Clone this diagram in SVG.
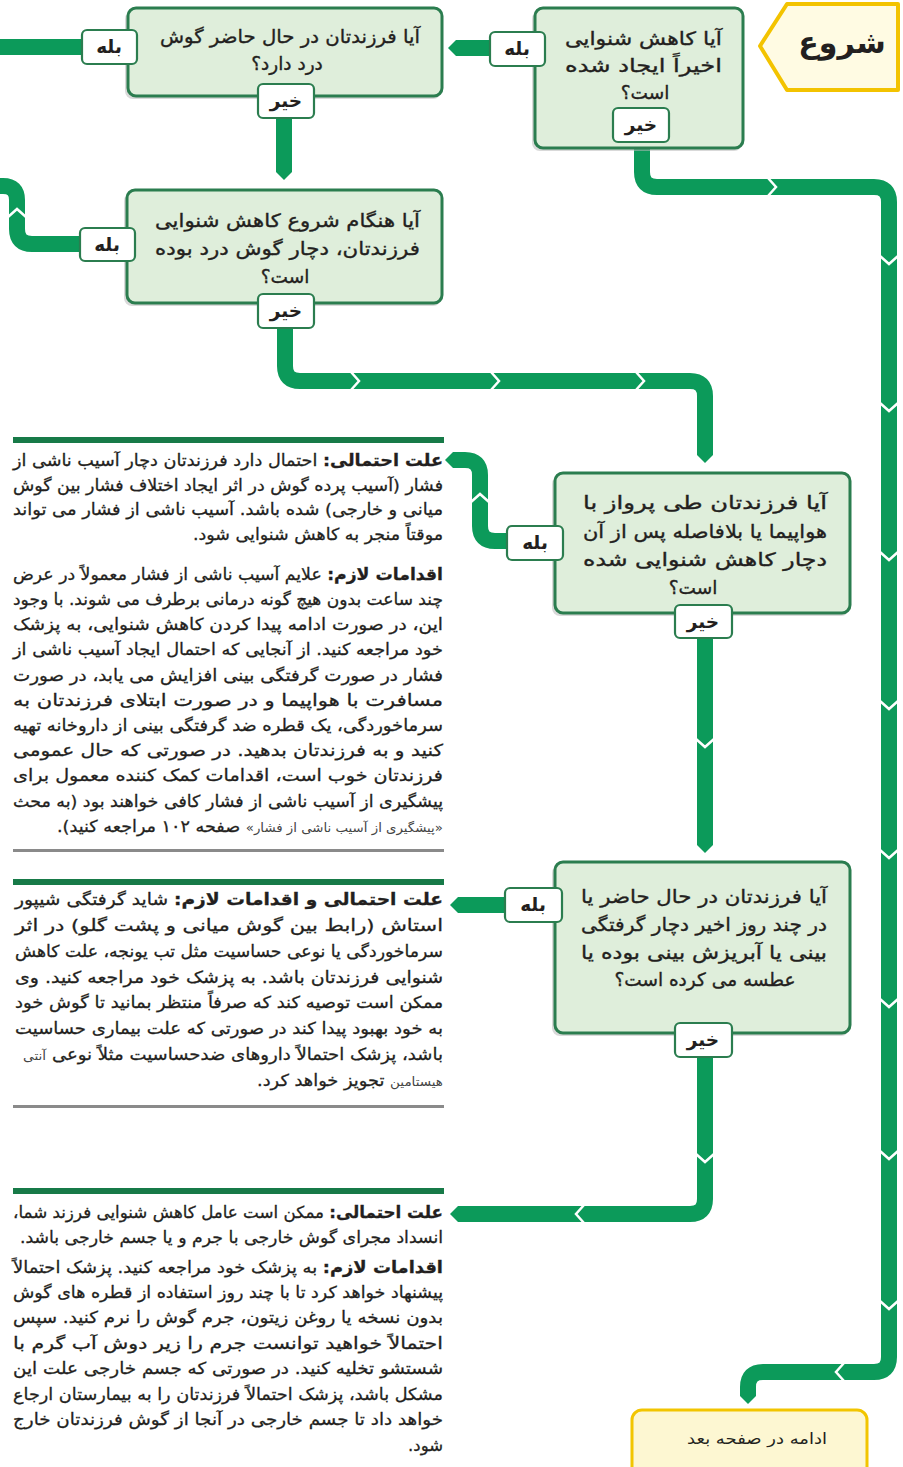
<svg xmlns="http://www.w3.org/2000/svg" width="903" height="1467" viewBox="0 0 903 1467">
<defs>
<style>
.t{font-family:"DejaVu Sans",sans-serif;fill:#231f20;}
.r{direction:rtl;}
.q{font-size:18.5px;stroke:#231f20;stroke-width:0.35;}
.lt{font-size:18.5px;font-weight:bold;}
.b{font-size:16.5px;stroke:#231f20;stroke-width:0.3;}
.k{font-weight:bold;}
.s{font-size:12.5px;fill:#444;stroke:none;}
.lbl{fill:#fff;stroke:#2b7d4f;stroke-width:2.2;}
.box{fill:#dfeedb;stroke:#2b7d4f;stroke-width:3;}
.sh{fill:#b9b9b9;opacity:.55;}
.c{fill:none;stroke:#0c9a5a;stroke-width:16;}
.ch{fill:none;stroke:#fff;stroke-width:2.5;}
.rule{fill:#177a48;}
.grule{fill:#8a8a8a;}
</style>
<marker id="tip" viewBox="0 0 10 10" refX="0" refY="5" markerWidth="1" markerHeight="1" orient="auto" markerUnits="strokeWidth"><path d="M0,0 L5,5 L0,10Z" fill="#0c9a5a"/></marker>
</defs>
<rect width="903" height="1467" fill="#fff"/>

<g id="connectors">
<path class="c" d="M490,48 H456" marker-end="url(#tip)"/>
<path class="c" d="M82,47 H0"/>
<path class="c" d="M284,118 V172" marker-end="url(#tip)"/>
<path class="c" d="M80,244 H32 Q17,244 17,229 V200 Q17,186 3,186 H0"/>
<path class="c" d="M285,328 V366 Q285,381 300,381 H690 Q705,381 705,396 V455" marker-end="url(#tip)"/>
<path class="c" d="M642,142 V172 Q642,187 657,187 H874 Q889,187 889,202 V1357 Q889,1372 874,1372 H763 Q748,1372 748,1387 V1396" marker-end="url(#tip)"/>
<path class="c" d="M507,541 H495 Q480,541 480,526 V475 Q480,460 465,460 H453" marker-end="url(#tip)"/>
<path class="c" d="M705,638 V845" marker-end="url(#tip)"/>
<path class="c" d="M505,905 H458" marker-end="url(#tip)"/>
<path class="c" d="M705,1057 V1199 Q705,1214 690,1214 H458" marker-end="url(#tip)"/>
<g id="chevrons">
<polyline class="ch" points="8,217 17,209 26,217"/>
<polyline class="ch" points="351,372 359,381 351,390"/>
<polyline class="ch" points="491,372 499,381 491,390"/>
<polyline class="ch" points="636,372 644,381 636,390"/>
<polyline class="ch" points="768,178 776,187 768,196"/>
<polyline class="ch" points="880,256 889,264 898,256"/>
<polyline class="ch" points="880,403 889,411 898,403"/>
<polyline class="ch" points="880,552 889,560 898,552"/>
<polyline class="ch" points="880,701 889,709 898,701"/>
<polyline class="ch" points="880,850 889,858 898,850"/>
<polyline class="ch" points="880,999 889,1007 898,999"/>
<polyline class="ch" points="880,1151 889,1159 898,1151"/>
<polyline class="ch" points="880,1301 889,1309 898,1301"/>
<polyline class="ch" points="844,1363 836,1372 844,1381"/>
<polyline class="ch" points="471,502 480,494 489,502"/>
<polyline class="ch" points="696,739 705,747 714,739"/>
<polyline class="ch" points="696,1154 705,1162 714,1154"/>
<polyline class="ch" points="584,1205 576,1214 584,1223"/>
</g>
</g>

<g id="start">
<polygon points="760,46 787,4 898,4 898,90 787,90" fill="#fffbe3" stroke="#f3c300" stroke-width="4" stroke-linejoin="round"/>
<text class="t r k" x="842" y="53" font-size="30" text-anchor="middle">شروع</text>
</g>

<g id="q1">
<rect class="sh" x="532" y="11" width="210" height="140" rx="8"/>
<rect class="box" x="535" y="8" width="208" height="140" rx="8"/>
<text class="t r q" x="722" y="45" textLength="157" lengthAdjust="spacingAndGlyphs">آیا کاهش شنوایی</text>
<text class="t r q" x="722" y="72" textLength="157" lengthAdjust="spacingAndGlyphs">اخیراً ایجاد شده</text>
<text class="t r q" x="645" y="99" text-anchor="middle">است؟</text>
<rect class="lbl" x="490" y="32" width="55" height="34" rx="5"/>
<text class="t r lt" x="517" y="55" text-anchor="middle">بله</text>
<rect class="lbl" x="613" y="108" width="56" height="34" rx="5"/>
<text class="t r lt" x="641" y="131" text-anchor="middle">خیر</text>
</g>

<g id="q2">
<rect class="sh" x="125" y="11" width="316" height="88" rx="8"/>
<rect class="box" x="128" y="8" width="314" height="88" rx="8"/>
<text class="t r q" x="420" y="43" textLength="260" lengthAdjust="spacingAndGlyphs">آیا فرزندتان در حال حاضر گوش</text>
<text class="t r q" x="287" y="70" text-anchor="middle">درد دارد؟</text>
<rect class="lbl" x="82" y="30" width="55" height="34" rx="5"/>
<text class="t r lt" x="109" y="53" text-anchor="middle">بله</text>
<rect class="lbl" x="258" y="84" width="56" height="34" rx="5"/>
<text class="t r lt" x="286" y="107" text-anchor="middle">خیر</text>
</g>

<g id="q3">
<rect class="sh" x="124" y="193" width="317" height="113" rx="8"/>
<rect class="box" x="127" y="190" width="315" height="113" rx="8"/>
<text class="t r q" x="420" y="227" textLength="265" lengthAdjust="spacingAndGlyphs">آیا هنگام شروع کاهش شنوایی</text>
<text class="t r q" x="420" y="255" textLength="265" lengthAdjust="spacingAndGlyphs">فرزندتان، دچار گوش درد بوده</text>
<text class="t r q" x="285" y="283" text-anchor="middle">است؟</text>
<rect class="lbl" x="80" y="228" width="55" height="33" rx="5"/>
<text class="t r lt" x="107" y="251" text-anchor="middle">بله</text>
<rect class="lbl" x="258" y="294" width="56" height="34" rx="5"/>
<text class="t r lt" x="286" y="317" text-anchor="middle">خیر</text>
</g>

<g id="q4">
<rect class="sh" x="552" y="476" width="297" height="140" rx="8"/>
<rect class="box" x="555" y="473" width="295" height="140" rx="8"/>
<text class="t r q" x="827" y="509" textLength="244" lengthAdjust="spacingAndGlyphs">آیا فرزندتان طی پرواز با</text>
<text class="t r q" x="827" y="538" textLength="244" lengthAdjust="spacingAndGlyphs">هواپیما یا بلافاصله پس از آن</text>
<text class="t r q" x="827" y="566" textLength="244" lengthAdjust="spacingAndGlyphs">دچار کاهش شنوایی شده</text>
<text class="t r q" x="693" y="594" text-anchor="middle">است؟</text>
<rect class="lbl" x="507" y="526" width="56" height="34" rx="5"/>
<text class="t r lt" x="535" y="549" text-anchor="middle">بله</text>
<rect class="lbl" x="675" y="605" width="57" height="33" rx="5"/>
<text class="t r lt" x="703" y="628" text-anchor="middle">خیر</text>
</g>

<g id="q5">
<rect class="sh" x="552" y="865" width="297" height="171" rx="8"/>
<rect class="box" x="555" y="862" width="295" height="171" rx="8"/>
<text class="t r q" x="827" y="903" textLength="246" lengthAdjust="spacingAndGlyphs">آیا فرزندتان در حال حاضر یا</text>
<text class="t r q" x="827" y="931" textLength="246" lengthAdjust="spacingAndGlyphs">در چند روز اخیر دچار گرفتگی</text>
<text class="t r q" x="827" y="959" textLength="246" lengthAdjust="spacingAndGlyphs">بینی یا آبریزش بینی بوده یا</text>
<text class="t r q" x="705" y="986" text-anchor="middle">عطسه می کرده است؟</text>
<rect class="lbl" x="505" y="888" width="57" height="34" rx="5"/>
<text class="t r lt" x="533" y="911" text-anchor="middle">بله</text>
<rect class="lbl" x="675" y="1023" width="57" height="34" rx="5"/>
<text class="t r lt" x="703" y="1046" text-anchor="middle">خیر</text>
</g>

<g id="continue">
<rect x="632" y="1410" width="235" height="70" rx="10" fill="#fdf7d2" stroke="#f2c500" stroke-width="3"/>
<text class="t r" x="827" y="1444" font-size="15.5" textLength="140" lengthAdjust="spacingAndGlyphs">ادامه در صفحه بعد</text>
</g>

<g id="text1">
<rect class="rule" x="13" y="437" width="431" height="6"/>
<text class="t r b" x="443" y="466" textLength="430" lengthAdjust="spacingAndGlyphs"><tspan class="k">علت احتمالی:</tspan> احتمال دارد فرزندتان دچار آسیب ناشی از</text>
<text class="t r b" x="443" y="491" textLength="430" lengthAdjust="spacingAndGlyphs">فشار (آسیب پرده گوش در اثر ایجاد اختلاف فشار بین گوش</text>
<text class="t r b" x="443" y="515" textLength="430" lengthAdjust="spacingAndGlyphs">میانی و خارجی) شده باشد. آسیب ناشی از فشار می تواند</text>
<text class="t r b" x="443" y="540" textLength="250" lengthAdjust="spacingAndGlyphs">موقتاً منجر به کاهش شنوایی شود.</text>
<text class="t r b" x="443" y="580" textLength="430" lengthAdjust="spacingAndGlyphs"><tspan class="k">اقدامات لازم:</tspan> علایم آسیب ناشی از فشار معمولاً در عرض</text>
<text class="t r b" x="443" y="605" textLength="430" lengthAdjust="spacingAndGlyphs">چند ساعت بدون هیچ گونه درمانی برطرف می شوند. با وجود</text>
<text class="t r b" x="443" y="630" textLength="430" lengthAdjust="spacingAndGlyphs">این، در صورت ادامه پیدا کردن کاهش شنوایی، به پزشک</text>
<text class="t r b" x="443" y="655" textLength="430" lengthAdjust="spacingAndGlyphs">خود مراجعه کنید. از آنجایی که احتمال ایجاد آسیب ناشی از</text>
<text class="t r b" x="443" y="681" textLength="430" lengthAdjust="spacingAndGlyphs">فشار در صورت گرفتگی بینی افزایش می یابد، در صورت</text>
<text class="t r b" x="443" y="706" textLength="430" lengthAdjust="spacingAndGlyphs">مسافرت با هواپیما و در صورت ابتلای فرزندتان به</text>
<text class="t r b" x="443" y="731" textLength="430" lengthAdjust="spacingAndGlyphs">سرماخوردگی، یک قطره ضد گرفتگی بینی از داروخانه تهیه</text>
<text class="t r b" x="443" y="756" textLength="430" lengthAdjust="spacingAndGlyphs">کنید و به فرزندتان بدهید. در صورتی که حال عمومی</text>
<text class="t r b" x="443" y="781" textLength="430" lengthAdjust="spacingAndGlyphs">فرزندتان خوب است، اقدامات کمک کننده معمول برای</text>
<text class="t r b" x="443" y="807" textLength="430" lengthAdjust="spacingAndGlyphs">پیشگیری از آسیب ناشی از فشار کافی خواهند بود (به محث</text>
<text class="t r b" x="443" y="832" textLength="386" lengthAdjust="spacingAndGlyphs"><tspan class="s">«پیشگیری از آسیب ناشی از فشار»</tspan> صفحه ۱۰۲ مراجعه کنید).</text>
<rect class="grule" x="13" y="849" width="431" height="3"/>
</g>

<g id="text2">
<rect class="rule" x="13" y="879" width="431" height="6"/>
<text class="t r b" x="443" y="905" textLength="428" lengthAdjust="spacingAndGlyphs"><tspan class="k">علت احتمالی و اقدامات لازم:</tspan> شاید گرفتگی شیپور</text>
<text class="t r b" x="443" y="931" textLength="428" lengthAdjust="spacingAndGlyphs">استاش (رابط بین گوش میانی و پشت گلو) در اثر</text>
<text class="t r b" x="443" y="957" textLength="428" lengthAdjust="spacingAndGlyphs">سرماخوردگی یا نوعی حساسیت مثل تب یونجه، علت کاهش</text>
<text class="t r b" x="443" y="983" textLength="428" lengthAdjust="spacingAndGlyphs">شنوایی فرزندتان باشد. به پزشک خود مراجعه کنید. وی</text>
<text class="t r b" x="443" y="1008" textLength="428" lengthAdjust="spacingAndGlyphs">ممکن است توصیه کند که صرفاً منتظر بمانید تا گوش خود</text>
<text class="t r b" x="443" y="1034" textLength="428" lengthAdjust="spacingAndGlyphs">به خود بهبود پیدا کند در صورتی که علت بیماری حساسیت</text>
<text class="t r b" x="443" y="1060" textLength="420" lengthAdjust="spacingAndGlyphs">باشد، پزشک احتمالاً داروهای ضدحساسیت مثلاً نوعی <tspan class="s">آنتی</tspan></text>
<text class="t r b" x="443" y="1086" textLength="186" lengthAdjust="spacingAndGlyphs"><tspan class="s">هیستامین</tspan> تجویز خواهد کرد.</text>
<rect class="grule" x="13" y="1105" width="431" height="3"/>
</g>

<g id="text3">
<rect class="rule" x="13" y="1188" width="431" height="6"/>
<text class="t r b" x="443" y="1218" textLength="430" lengthAdjust="spacingAndGlyphs"><tspan class="k">علت احتمالی:</tspan> ممکن است عامل کاهش شنوایی فرزند شما،</text>
<text class="t r b" x="443" y="1243" textLength="423" lengthAdjust="spacingAndGlyphs">انسداد مجرای گوش خارجی با جرم و یا  جسم خارجی باشد.</text>
<text class="t r b" x="443" y="1273" textLength="430" lengthAdjust="spacingAndGlyphs"><tspan class="k">اقدامات لازم:</tspan> به پزشک خود مراجعه کنید. پزشک احتمالاً</text>
<text class="t r b" x="443" y="1298" textLength="430" lengthAdjust="spacingAndGlyphs">پیشنهاد خواهد کرد تا با چند روز استفاده از قطره های گوش</text>
<text class="t r b" x="443" y="1323" textLength="430" lengthAdjust="spacingAndGlyphs">بدون نسخه یا روغن زیتون، جرم گوش را نرم کنید. سپس</text>
<text class="t r b" x="443" y="1349" textLength="430" lengthAdjust="spacingAndGlyphs">احتمالاً خواهید توانست جرم را زیر دوش آب گرم با</text>
<text class="t r b" x="443" y="1374" textLength="430" lengthAdjust="spacingAndGlyphs">شستشو تخلیه کنید. در صورتی که جسم خارجی علت این</text>
<text class="t r b" x="443" y="1400" textLength="430" lengthAdjust="spacingAndGlyphs">مشکل باشد، پزشک احتمالاً فرزندتان را به بیمارستان ارجاع</text>
<text class="t r b" x="443" y="1425" textLength="430" lengthAdjust="spacingAndGlyphs">خواهد داد تا جسم خارجی در آنجا از گوش فرزندتان خارج</text>
<text class="t r b" x="443" y="1451">شود.</text>
</g>
</svg>
